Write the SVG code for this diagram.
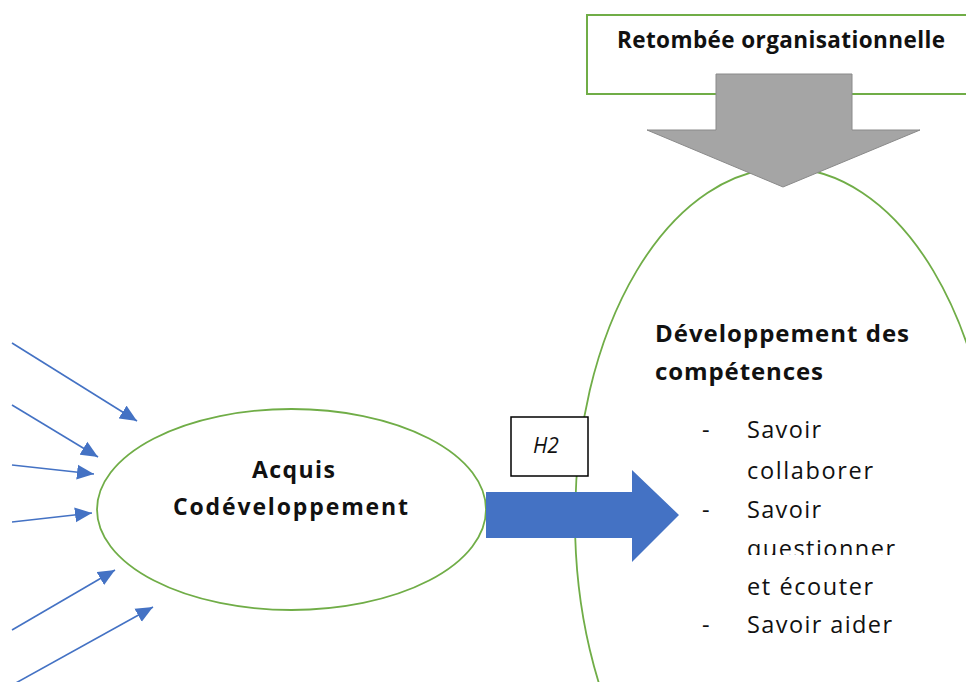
<svg xmlns="http://www.w3.org/2000/svg" width="966" height="682" viewBox="0 0 966 682">
<style>
.bg{fill:#ffffff}
.outline{fill:none;stroke:#70ad47;stroke-width:1.8}
.boxline{fill:#ffffff;stroke:#70ad47;stroke-width:2}
.thin{stroke:#4472c4;stroke-width:1.6;fill:none}
.bold{font-family:"Open Sans","Noto Sans",sans-serif;font-weight:bold;fill:#111}
.reg{font-family:"Open Sans","Noto Sans",sans-serif;fill:#111}
</style>
<defs>
<marker id="ah" markerUnits="userSpaceOnUse" markerWidth="18" markerHeight="16" refX="17" refY="8" orient="auto">
<path d="M0,0.5 L17,8 L0,15.5 Z" fill="#4472c4"/>
</marker>
<clipPath id="qclip"><rect x="740" y="530" width="200" height="25"/></clipPath>
</defs>
<rect class="bg" x="0" y="0" width="966" height="682"/>

<g id="retombee">
<rect class="boxline" x="587" y="15" width="400" height="79"/>
<text class="bold" x="617" y="48" font-size="22.5" textLength="328" lengthAdjust="spacing">Retombée organisationnelle</text>
</g>

<g id="developpement">
<ellipse class="outline" cx="785" cy="520" rx="210" ry="352"/>
<text class="bold" x="655" y="342" font-size="24" textLength="254" lengthAdjust="spacing">Développement des</text>
<text class="bold" x="655" y="380" font-size="24" textLength="168" lengthAdjust="spacing">compétences</text>
<text class="reg" x="702" y="438" font-size="23.5">-</text>
<text class="reg" x="747" y="438" font-size="23.5" textLength="74" lengthAdjust="spacing">Savoir</text>
<text class="reg" x="747" y="479" font-size="23.5" textLength="126" lengthAdjust="spacing">collaborer</text>
<text class="reg" x="702" y="518" font-size="23.5">-</text>
<text class="reg" x="747" y="518" font-size="23.5" textLength="74" lengthAdjust="spacing">Savoir</text>
<text class="reg" x="747" y="557" font-size="23.5" textLength="148" lengthAdjust="spacing" clip-path="url(#qclip)">questionner</text>
<text class="reg" x="747" y="595" font-size="23.5" textLength="126" lengthAdjust="spacing">et écouter</text>
<text class="reg" x="702" y="633" font-size="23.5">-</text>
<text class="reg" x="747" y="633" font-size="23.5" textLength="145" lengthAdjust="spacing">Savoir aider</text>
</g>

<g id="acquis">
<ellipse class="outline" cx="291.5" cy="509.5" rx="194.5" ry="100.5" fill="#ffffff"/>
<text class="bold" x="293.5" y="478" font-size="23" text-anchor="middle" textLength="83" lengthAdjust="spacing">Acquis</text>
<text class="bold" x="290.5" y="515" font-size="23" text-anchor="middle" textLength="235" lengthAdjust="spacing">Codéveloppement</text>
</g>

<g id="h2">
<rect x="511" y="417" width="77" height="59" fill="#ffffff" stroke="#000000" stroke-width="1.5"/>
<text x="546" y="453" font-family="'Open Sans','Noto Sans',sans-serif" font-style="italic" font-size="21" fill="#111" text-anchor="middle">H2</text>
</g>

<g id="connectors">
<polygon points="716,74 852,74 852,130 920,130 783,187 647,130 716,130" fill="#a5a5a5" stroke="#8a8a8a" stroke-width="1"/>
<polygon points="486,492 632,492 632,470 679,515 632,562 632,538 486,538" fill="#4472c4"/>
<line class="thin" x1="12" y1="343" x2="137" y2="421" marker-end="url(#ah)"/>
<line class="thin" x1="12" y1="405" x2="98" y2="457" marker-end="url(#ah)"/>
<line class="thin" x1="12" y1="465" x2="94" y2="474" marker-end="url(#ah)"/>
<line class="thin" x1="12" y1="522" x2="92" y2="513" marker-end="url(#ah)"/>
<line class="thin" x1="12" y1="630" x2="115" y2="570" marker-end="url(#ah)"/>
<line class="thin" x1="14" y1="684" x2="153" y2="607" marker-end="url(#ah)"/>
</g>
</svg>
